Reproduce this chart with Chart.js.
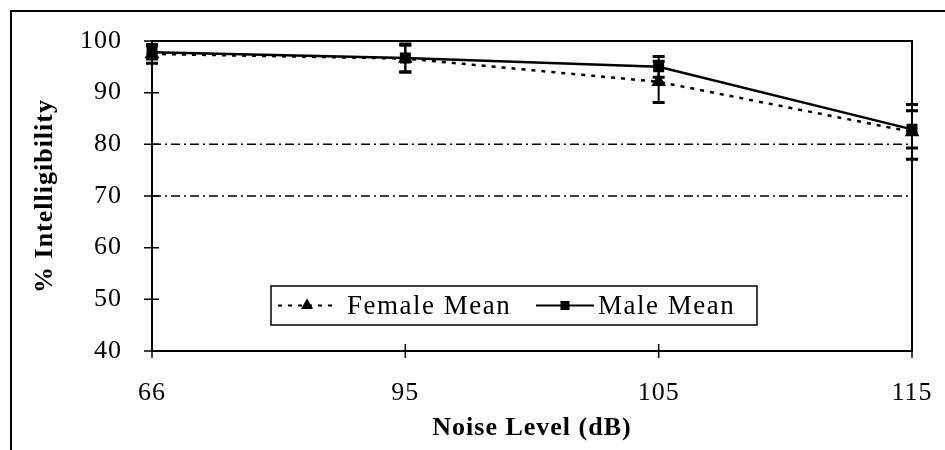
<!DOCTYPE html>
<html>
<head>
<meta charset="utf-8">
<script src="https://cdn.jsdelivr.net/npm/chart.js@4.4.1/dist/chart.umd.min.js"></script>
<style>
  html, body { margin: 0; padding: 0; background: #fff; }
  #wrap { position: relative; width: 945px; height: 450px; }
</style>
</head>
<body>
<div id="wrap"><canvas id="intelChart" width="945" height="450"></canvas></div>
<script>
// Data
const noiseLevels = ['66', '95', '105', '115'];
const femaleMean = [97.5, 96.6, 92.1, 82.4];
const femaleErr = [1.8, 2.6, 4.0, 5.3];
const maleMean = [97.8, 96.7, 95.0, 82.9];
const maleErr = [1.3, 2.7, 2.0, 3.6];
const refLevels = [80, 70];
const yTicks = [40, 50, 60, 70, 80, 90, 100];

const SERIF = '"Liberation Serif", "Times New Roman", serif';

// reference dash-dot lines
const refSets = refLevels.map(function(v) {
    return {
        label: 'ref' + v,
        data: noiseLevels.map(function() { return v; }),
        borderColor: '#000',
        borderWidth: 1.5,
        borderDash: [9, 4, 2, 4],
        pointRadius: 0,
        order: 3,
        isRef: true
    };
});

// Outer frame + background
const framePlugin = {
    id: 'frame',
    beforeDraw: function(chart) {
        const ctx = chart.ctx;
        ctx.save();
        ctx.fillStyle = '#fff';
        ctx.fillRect(0, 0, chart.width, chart.height);
        ctx.strokeStyle = '#000';
        ctx.lineWidth = 2;
        ctx.beginPath();
        ctx.moveTo(11, chart.height);
        ctx.lineTo(11, 11);
        ctx.lineTo(chart.width, 11);
        ctx.stroke();
        ctx.restore();
        ctx.letterSpacing = '1px';
    }
};

// Box around plot area, crossing tick marks, error bars, legend
const extrasPlugin = {
    id: 'extras',
    afterDatasetsDraw: function(chart) {
        const ctx = chart.ctx;
        const x = chart.scales.x, y = chart.scales.y;
        ctx.save();
        ctx.strokeStyle = '#000';
        [[femaleMean, femaleErr], [maleMean, maleErr]].forEach(function(pair) {
            pair[0].forEach(function(m, i) {
                const px = x.getPixelForValue(i);
                const top = y.getPixelForValue(m + pair[1][i]);
                const bot = y.getPixelForValue(m - pair[1][i]);
                ctx.lineWidth = 2;
                ctx.beginPath();
                ctx.moveTo(px, top);
                ctx.lineTo(px, bot);
                ctx.stroke();
                ctx.lineWidth = 3;
                ctx.beginPath();
                ctx.moveTo(px - 6, top);
                ctx.lineTo(px + 6, top);
                ctx.moveTo(px - 6, bot);
                ctx.lineTo(px + 6, bot);
                ctx.stroke();
            });
        });
        ctx.restore();
    },
    afterDraw: function(chart) {
        const ctx = chart.ctx;
        const a = chart.chartArea;
        const x = chart.scales.x, y = chart.scales.y;
        ctx.save();
        ctx.strokeStyle = '#000';
        ctx.lineWidth = 2;
        ctx.strokeRect(a.left, a.top, a.right - a.left, a.bottom - a.top);
        ctx.lineWidth = 1.5;
        ctx.beginPath();
        y.ticks.forEach(function(t, i) {
            const py = y.getPixelForTick(i);
            ctx.moveTo(a.left - 8, py);
            ctx.lineTo(a.left + 7, py);
        });
        x.ticks.forEach(function(t, i) {
            const px = x.getPixelForTick(i);
            ctx.moveTo(px, a.bottom - 7);
            ctx.lineTo(px, a.bottom + 7);
        });
        ctx.stroke();

        // legend box
        const lx = 271, ly = 286, lw = 486, lh = 39;
        ctx.fillStyle = '#fff';
        ctx.fillRect(lx, ly, lw, lh);
        ctx.lineWidth = 1.5;
        ctx.strokeRect(lx, ly, lw, lh);
        const items = chart.data.datasets.filter(function(d) { return !d.isRef; });
        const starts = [278, 536];
        const textAt = [347, 598];
        ctx.font = '27px ' + SERIF;
        ctx.letterSpacing = '1.5px';
        ctx.textBaseline = 'middle';
        ctx.fillStyle = '#000';
        items.forEach(function(d, k) {
            const sx = starts[k], cy = ly + lh / 2;
            ctx.lineWidth = 2;
            ctx.setLineDash(d.borderDash || []);
            ctx.beginPath();
            ctx.moveTo(sx, cy);
            ctx.lineTo(sx + 58, cy);
            ctx.stroke();
            ctx.setLineDash([]);
            Chart.helpers.drawPoint(ctx, { pointStyle: d.pointStyle, radius: 5, rotation: 0, borderWidth: 1 }, sx + 29, cy);
            ctx.fill();
            ctx.fillText(d.label, textAt[k], cy + 1);
        });
        ctx.restore();
    }
};

new Chart(document.getElementById('intelChart'), {
    type: 'line',
    data: {
        labels: noiseLevels,
        datasets: refSets.concat([
            {
                label: 'Female Mean',
                data: femaleMean,
                borderColor: '#000',
                backgroundColor: '#000',
                borderWidth: 2.5,
                borderDash: [4, 6],
                pointStyle: 'triangle',
                pointRadius: 6,
                order: 2
            },
            {
                label: 'Male Mean',
                data: maleMean,
                borderColor: '#000',
                backgroundColor: '#000',
                borderWidth: 2.5,
                pointStyle: 'rect',
                pointRadius: 6,
                order: 1
            }
        ])
    },
    options: {
        responsive: false,
        animation: false,
        clip: false,
        layout: {
            padding: { left: 12, top: 41, right: 33, bottom: 0 }
        },
        scales: {
            x: {
                offset: false,
                afterFit: function(scale) {
                    scale.height = 99;
                    scale.paddingLeft = 0;
                    scale.paddingRight = 0;
                },
                grid: { display: false, drawTicks: false },
                border: { display: false },
                ticks: {
                    color: '#000',
                    padding: 27,
                    maxRotation: 0,
                    font: { family: SERIF, size: 26 }
                },
                title: {
                    display: true,
                    text: 'Noise Level (dB)',
                    color: '#000',
                    padding: { top: 0, bottom: 6 },
                    font: { family: SERIF, size: 26, weight: 'bold' }
                }
            },
            y: {
                min: 40,
                max: 100,
                afterFit: function(scale) {
                    scale.width = 140;
                    scale.paddingTop = 0;
                    scale.paddingBottom = 0;
                },
                afterBuildTicks: function(scale) {
                    scale.ticks = yTicks.map(function(v) { return { value: v }; });
                },
                grid: { display: false, drawTicks: false },
                border: { display: false },
                ticks: {
                    color: '#000',
                    padding: 30,
                    font: { family: SERIF, size: 26 }
                },
                title: {
                    display: true,
                    text: '% Intelligibility',
                    color: '#000',
                    padding: { top: 18, bottom: 0 },
                    font: { family: SERIF, size: 26, weight: 'bold' }
                }
            }
        },
        plugins: {
            legend: { display: false },
            tooltip: { enabled: false }
        }
    },
    plugins: [framePlugin, extrasPlugin]
});
</script>
</body>
</html>
